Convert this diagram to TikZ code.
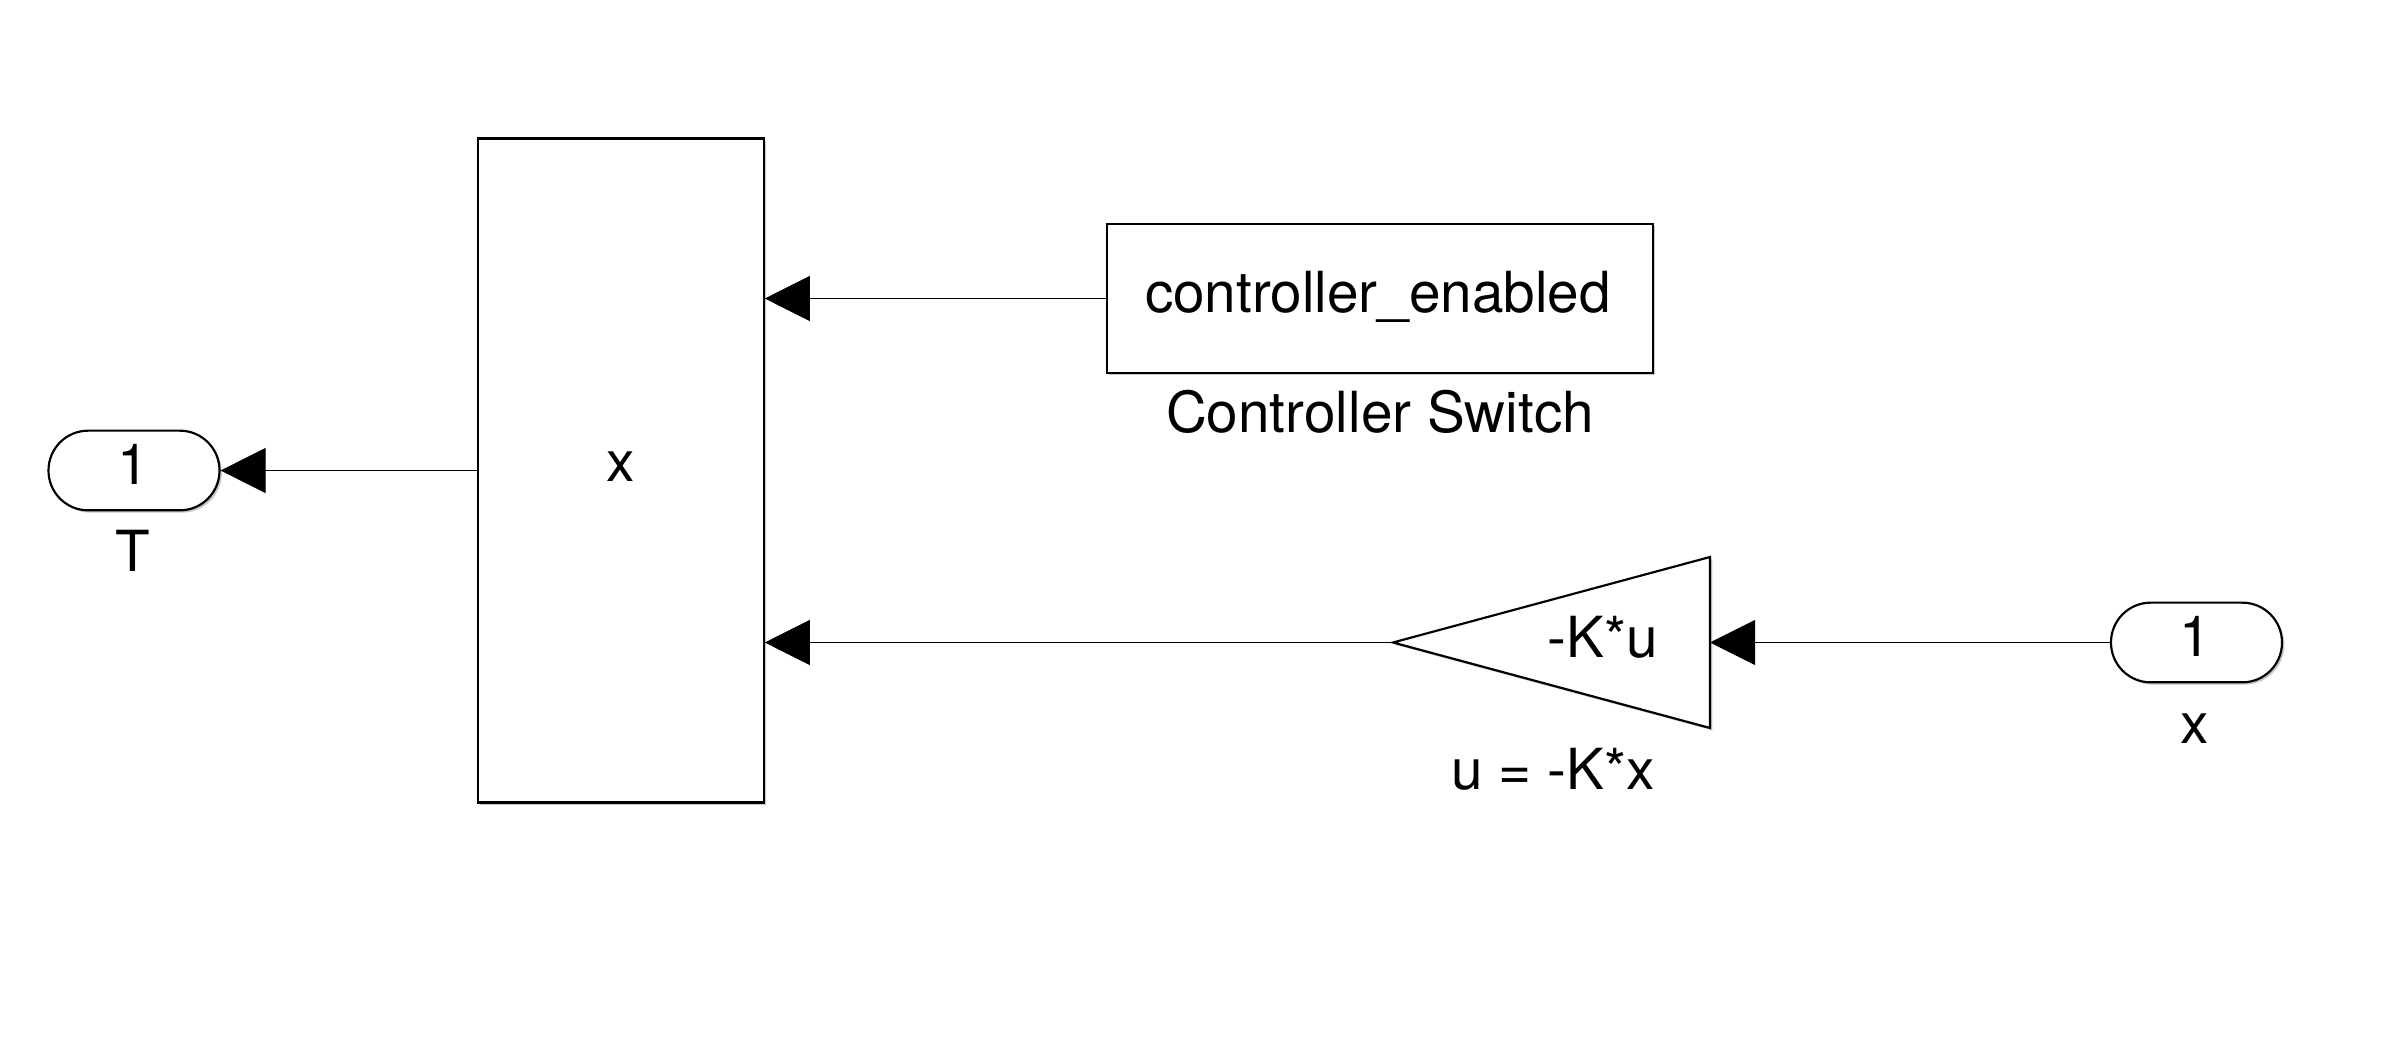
\documentclass[tikz,border=0pt]{standalone}
\usepackage{fontspec}
\setmainfont{TeX Gyre Heros}
\usetikzlibrary{arrows.meta,shadows}
\begin{document}
\begin{tikzpicture}[x=0.3pt,y=-0.3pt,
  softshadow/.style={drop shadow={shadow xshift=0.7pt,shadow yshift=-0.7pt,opacity=0.22,fill=black}},
  block/.style={draw,line width=0.65pt,fill=white,inner sep=0pt,softshadow},
  port/.style={block,rounded corners=11.9pt,minimum width=51.3pt,minimum height=23.9pt},
  lbl/.style={inner sep=0pt,anchor=base,font=\fontsize{17}{20}\selectfont},
  sig/.style={line width=0.3pt,-{Triangle[length=13.5pt,width=13.5pt]}},
]
\useasboundingbox (0,0) rectangle (2400,1054);

% signal selector block
\node[block,minimum width=85.8pt,minimum height=199.2pt] (mux) at (620.7,470.5) {};
\node[lbl] (muxname) at (620.7,482) {x};

% constant block
\node[block,minimum width=163.8pt,minimum height=44.7pt] (sw) at (1380,298.5) {};
\node[lbl] (swtext) at (1378,313) {controller\_enabled};
\node[lbl] (swname) at (1380,433) {Controller Switch};

% gain block (triangle pointing left)
\coordinate (gapex) at (1393,642.5);
\coordinate (gtop) at (1710,557);
\coordinate (gbot) at (1710,728);
\coordinate (gin) at (1710,642.5);
\draw[line width=0.65pt,fill=white,softshadow] (gapex) -- (gtop) -- (gbot) -- cycle;
\node[lbl] (gaintext) at (1603,658) {-K*u};
\node[lbl] (gainname) at (1553,789) {u = -K*x};

% output port
\node[port] (T) at (134,470.5) {};
\node[lbl] (Tnum) at (133,485) {1};
\node[lbl] (Tname) at (133,572) {T};

% input port
\node[port] (xin) at (2196.5,642.5) {};
\node[lbl] (xnum) at (2195,657) {1};
\node[lbl] (xname) at (2195,744) {x};

% signal lines
\draw[sig] (mux.west) -- (T.east);
\draw[sig] (sw.west) -- (mux.east |- sw.west);
\draw[sig] (gapex) -- (mux.east |- gapex);
\draw[sig] (xin.west) -- (gin);
\end{tikzpicture}
\end{document}
